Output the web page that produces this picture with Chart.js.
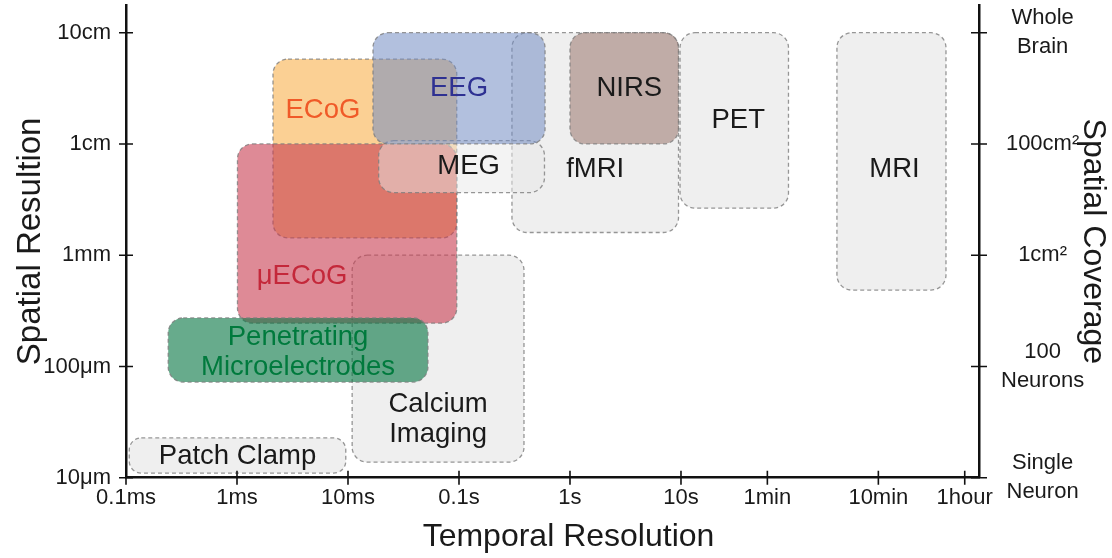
<!DOCTYPE html>
<html>
<head>
<meta charset="utf-8">
<script src="https://cdn.jsdelivr.net/npm/chart.js@4.4.1/dist/chart.umd.min.js"></script>
<style>
html,body{margin:0;padding:0;background:#ffffff;}
canvas{display:block;}
</style>
</head>
<body>
<canvas id="chart" width="1112" height="558"></canvas>
<script>
// ---------------- DATA ----------------
// Methods (drawing order, back to front)
const methods = ['fMRI', 'PET', 'MRI', 'Calcium Imaging', 'Patch Clamp', 'ECoG', 'μECoG',
                 'Penetrating Microelectrodes', 'MEG', 'EEG', 'NIRS'];
// Label lines shown inside each box
const methodLabels = [['fMRI'], ['PET'], ['MRI'], ['Calcium', 'Imaging'], ['Patch Clamp'], ['ECoG'], ['μECoG'],
                      ['Penetrating', 'Microelectrodes'], ['MEG'], ['EEG'], ['NIRS']];
// Temporal resolution range (seconds)
const timeMin = [0.30, 9.8, 254, 0.0109, 0.000107, 0.00211, 0.00101, 0.00024, 0.0189, 0.0168, 1.0];
const timeMax = [9.5, 93, 2440, 0.385, 0.00955, 0.0955, 0.0955, 0.0525, 0.589, 0.596, 9.5];
// Spatial resolution range (metres)
const sizeMin = [0.0016, 0.00265, 0.000486, 0.0000138, 0.000011, 0.00143, 0.000245, 0.0000724, 0.00365, 0.01, 0.01];
const sizeMax = [0.1, 0.1, 0.1, 0.001, 0.0000228, 0.058, 0.01, 0.000273, 0.0107, 0.1, 0.1];

// Axis ticks
const xTickValues = [0.0001, 0.001, 0.01, 0.1, 1, 10, 60, 600, 3600];
const xTickLabels = ['0.1ms', '1ms', '10ms', '0.1s', '1s', '10s', '1min', '10min', '1hour'];
const yTickValues = [0.00001, 0.0001, 0.001, 0.01, 0.1];
const yTickLabels = ['10μm', '100μm', '1mm', '1cm', '10cm'];
const coverageLabels = [['Single', 'Neuron'], ['100', 'Neurons'], ['1cm²'], ['100cm²'], ['Whole', 'Brain']];
const xRange = [0.0001, 4840];
const yRange = [0.00001, 0.1775];

// ---------------- STYLE ----------------
const FONT = "'Liberation Sans', Arial, Helvetica, sans-serif";
const GREY = '#efefef';
const boxStyle = {
  'fMRI':            {fill: GREY, text: '#1a1a1a', dx: 0, dy: 37},
  'PET':             {fill: GREY, text: '#1a1a1a', dx: 4, dy: 0},
  'MRI':             {fill: GREY, text: '#1a1a1a', dx: 3, dy: 8},
  'Calcium Imaging': {fill: GREY, text: '#1a1a1a', dx: 0, dy: 61},
  'Patch Clamp':     {fill: GREY, text: '#1a1a1a', dx: 0, dy: 1, r: 12},
  'ECoG':            {fill: 'rgba(247,170,60,0.55)', text: '#f05a28', dx: -42, dy: -38},
  'μECoG':           {fill: 'rgba(200,60,80,0.6)', text: '#c4283a', dx: -45, dy: 43},
  'Penetrating Microelectrodes': {fill: 'rgba(10,120,70,0.62)', text: '#007a3d', dx: 0, dy: 2},
  'MEG':             {fill: 'rgba(232,232,232,0.5)', text: '#1a1a1a', dx: 7, dy: 0},
  'EEG':             {fill: 'rgba(115,140,195,0.55)', text: '#2e3192', dx: 0, dy: 0},
  'NIRS':            {fill: 'rgba(145,105,95,0.5)', text: '#1a1a1a', dx: 5, dy: 0}
};

function roundedRect(ctx, x, y, w, h, r) {
  ctx.beginPath();
  ctx.moveTo(x + r, y);
  ctx.lineTo(x + w - r, y);
  ctx.arcTo(x + w, y, x + w, y + r, r);
  ctx.lineTo(x + w, y + h - r);
  ctx.arcTo(x + w, y + h, x + w - r, y + h, r);
  ctx.lineTo(x + r, y + h);
  ctx.arcTo(x, y + h, x, y + h - r, r);
  ctx.lineTo(x, y + r);
  ctx.arcTo(x, y, x + r, y, r);
  ctx.closePath();
}

function boxRect(chart, i) {
  const pts = chart.getDatasetMeta(i).data;
  const x0 = Math.min(pts[0].x, pts[1].x), x1 = Math.max(pts[0].x, pts[1].x);
  const y0 = Math.min(pts[0].y, pts[1].y), y1 = Math.max(pts[0].y, pts[1].y);
  return {x0, x1, y0, y1};
}

const boxPlugin = {
  id: 'methodBoxes',
  beforeDatasetsDraw(chart) {
    const ctx = chart.ctx;
    chart.data.datasets.forEach((ds, i) => {
      const st = boxStyle[ds.label];
      const b = boxRect(chart, i);
      const w = b.x1 - b.x0, h = b.y1 - b.y0;
      const r = Math.min(st.r || 15, w / 2, h / 2);
      ctx.save();
      roundedRect(ctx, b.x0, b.y0, w, h, r);
      ctx.fillStyle = st.fill;
      ctx.fill();
      ctx.setLineDash([4, 3]);
      ctx.lineWidth = 1.3;
      ctx.strokeStyle = 'rgba(125,125,125,0.8)';
      ctx.stroke();
      ctx.restore();
    });
  },
  afterDatasetsDraw(chart) {
    const ctx = chart.ctx;
    chart.data.datasets.forEach((ds, i) => {
      const st = boxStyle[ds.label];
      const b = boxRect(chart, i);
      const lines = methodLabels[i];
      const cx = (b.x0 + b.x1) / 2 + st.dx;
      const cy = (b.y0 + b.y1) / 2 + st.dy;
      const lh = 30;
      ctx.save();
      ctx.font = '27.5px ' + FONT;
      ctx.fillStyle = st.text;
      ctx.textAlign = 'center';
      ctx.textBaseline = 'middle';
      lines.forEach((ln, k) => {
        ctx.fillText(ln, cx, cy + (k - (lines.length - 1) / 2) * lh);
      });
      ctx.restore();
    });
  }
};

// Tick marks that cross the axis lines, placed through the scales
const crossTicks = {
  id: 'crossTicks',
  afterDraw(chart) {
    const ctx = chart.ctx;
    const {x, y, y2} = chart.scales;
    const area = chart.chartArea;
    ctx.save();
    ctx.strokeStyle = '#111';
    ctx.lineWidth = 1.6;
    ctx.beginPath();
    xTickValues.forEach(v => {
      const px = x.getPixelForValue(v);
      ctx.moveTo(px, area.bottom - 7);
      ctx.lineTo(px, area.bottom + 7);
    });
    yTickValues.forEach(v => {
      const py = y.getPixelForValue(v);
      ctx.moveTo(area.left - 7, py);
      ctx.lineTo(area.left + 7, py);
      const py2 = y2.getPixelForValue(v);
      ctx.moveTo(area.right - 8, py2);
      ctx.lineTo(area.right + 8, py2);
    });
    ctx.stroke();
    // bottom axis title
    ctx.font = '32px ' + FONT;
    ctx.fillStyle = '#1a1a1a';
    ctx.textAlign = 'center';
    ctx.textBaseline = 'middle';
    ctx.fillText('Temporal Resolution', (x.left + x.right) / 2 + 16, 537);
    ctx.restore();
  }
};

const datasets = methods.map((m, i) => ({
  label: m,
  data: [{x: timeMin[i], y: sizeMin[i]}, {x: timeMax[i], y: sizeMax[i]}],
  pointRadius: 0,
  pointHoverRadius: 0,
  showLine: false
}));

new Chart(document.getElementById('chart'), {
  type: 'scatter',
  data: {datasets},
  options: {
    responsive: false,
    animation: false,
    events: [],
    layout: {padding: {top: 5, left: 0, right: 0, bottom: 0}},
    plugins: {legend: {display: false}, tooltip: {enabled: false}},
    scales: {
      x: {
        type: 'logarithmic', position: 'bottom', min: xRange[0], max: xRange[1],
        afterBuildTicks: s => { s.ticks = xTickValues.map(v => ({value: v})); },
        afterFit: s => { s.height = 80.3; s.paddingLeft = 0; s.paddingRight = 0; },
        ticks: {
          autoSkip: false, maxRotation: 0, minRotation: 0, padding: 7,
          font: {family: FONT, size: 22}, color: '#1a1a1a',
          callback: v => xTickLabels[xTickValues.indexOf(v)]
        },
        grid: {display: true, drawOnChartArea: false, drawTicks: false, color: 'rgba(0,0,0,0)'},
        border: {display: true, width: 2.5, color: '#111'}
      },
      y: {
        type: 'logarithmic', position: 'left', min: yRange[0], max: yRange[1],
        afterBuildTicks: s => { s.ticks = yTickValues.map(v => ({value: v})); },
        afterFit: s => { s.width = 126; s.paddingTop = 0; s.paddingBottom = 0; },
        ticks: {
          autoSkip: false, padding: 15,
          font: {family: FONT, size: 22}, color: '#1a1a1a',
          callback: v => yTickLabels[yTickValues.indexOf(v)]
        },
        title: {display: true, text: 'Spatial Resultion', color: '#1a1a1a',
                font: {family: FONT, size: 33}, padding: {top: 11, bottom: 0}},
        grid: {display: true, drawOnChartArea: false, drawTicks: false, color: 'rgba(0,0,0,0)'},
        border: {display: true, width: 2.5, color: '#111'}
      },
      y2: {
        type: 'logarithmic', position: 'right', min: yRange[0], max: yRange[1],
        afterBuildTicks: s => { s.ticks = yTickValues.map(v => ({value: v})); },
        afterFit: s => { s.width = 133; s.paddingTop = 0; s.paddingBottom = 0; },
        ticks: {
          autoSkip: false, padding: 22, crossAlign: 'center',
          font: {family: FONT, size: 22, lineHeight: 1.3}, color: '#1a1a1a',
          callback: v => coverageLabels[yTickValues.indexOf(v)]
        },
        title: {display: true, text: 'Spatial Coverage', color: '#1a1a1a',
                font: {family: FONT, size: 32}, padding: {top: 0, bottom: 0}},
        grid: {display: true, drawOnChartArea: false, drawTicks: false, color: 'rgba(0,0,0,0)'},
        border: {display: true, width: 2.5, color: '#111'}
      }
    }
  },
  plugins: [boxPlugin, crossTicks]
});
</script>
</body>
</html>
